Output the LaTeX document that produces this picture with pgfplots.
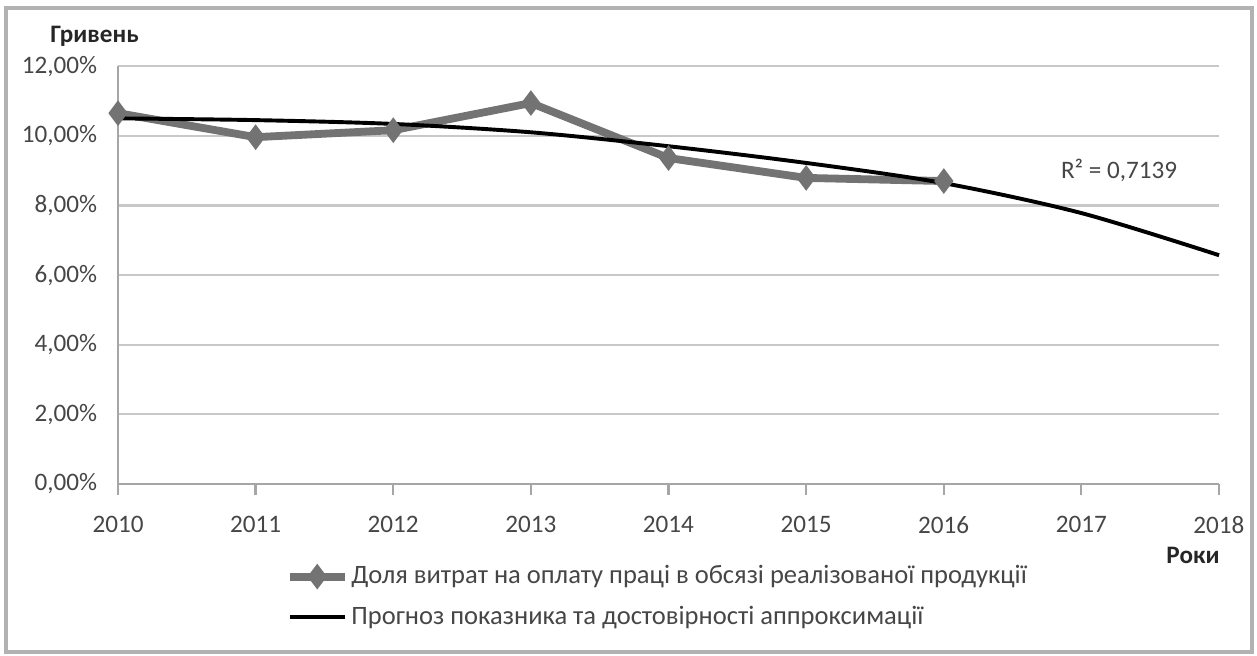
\documentclass[border=0pt]{standalone}
\usepackage{pgfplots}
\pgfplotsset{compat=1.18}
\usepackage{fontspec}
\setmainfont{Carlito}
\definecolor{serieGray}{RGB}{115,115,115}
\definecolor{gridGray}{RGB}{200,200,200}
\definecolor{txtGray}{RGB}{70,70,70}
\begin{document}
\begin{tikzpicture}[x=0.358pt,y=0.358pt]
% page frame in pixel units of the reference
\useasboundingbox (-118,-171) rectangle (1139,484);
\draw[gray!60, line width=1.2pt] (-112,-168) rectangle (1134,476);
\begin{axis}[
    at={(0,0)}, anchor=origin,
    scale only axis,
    width=394.2pt,
    height=149.6pt,
    xmin=2010, xmax=2018,
    ymin=0, ymax=12,
    xtick={2010,...,2018},
    ytick={0,2,...,12},
    x tick label style={/pgf/number format/1000 sep={}},
    yticklabel={\pgfmathprintnumber[fixed,fixed zerofill,precision=2,use comma]{\tick}\%},
    /pgf/number format/assume math mode=true,
    ymajorgrids=true,
    grid style={gridGray, line width=0.8pt},
    axis x line*=bottom,
    axis y line*=left,
    axis line style={gray!70, line width=0.8pt},
    x tick style={gray!70, line width=0.8pt},
    xtick pos=bottom,
    ytick style={draw=none},
    major tick length=4pt,
    tick align=outside,
    tick label style={font=\fontsize{9}{10}\selectfont, text=txtGray},
    xticklabel style={yshift=-4pt},
    clip=false,
    legend style={
        draw=none, fill=none,
        at={(0.152,-0.18)}, anchor=north west,
        font=\fontsize{9.5}{10}\selectfont,
        text=txtGray,
        row sep=2.5pt,
        legend cell align=left,
        nodes={inner xsep=1pt},
        inner sep=0pt,
    },
    legend image code/.code={
        \draw[mark repeat=2, mark phase=2, #1] plot coordinates {(0cm,0cm) (0.345cm,0cm) (0.69cm,0cm)};
    },
]
\addplot[serieGray, line width=2.8pt, mark=diamond*, mark size=4.2pt,
    mark options={solid, fill=serieGray, draw=serieGray, line width=0.5pt}] coordinates {
    (2010,10.65) (2011,9.96) (2012,10.16) (2013,10.94) (2014,9.36) (2015,8.79) (2016,8.70)
};
\addplot[black, line width=1.4pt, smooth] coordinates {
    (2010,10.50) (2011,10.45) (2012,10.34) (2013,10.10) (2014,9.70) (2015,9.22) (2016,8.64) (2017,7.78) (2018,6.57)
};
\legend{Доля витрат на оплату праці в обсязі реалізованої продукції,
        Прогноз показника та достовірності аппроксимації}
\node[font=\fontsize{9}{10}\selectfont, text=txtGray, anchor=west] at (axis cs:2016.78,9.0) {R² = 0,7139};
\node[font=\bfseries\fontsize{9}{10}\selectfont, text=black!85] at (axis cs:2009.83,12.85) {Гривень};
\node[font=\bfseries\fontsize{9}{10}\selectfont, text=black!85] at (axis cs:2017.81,-2.05) {Роки};
\end{axis}
\end{tikzpicture}
\end{document}
